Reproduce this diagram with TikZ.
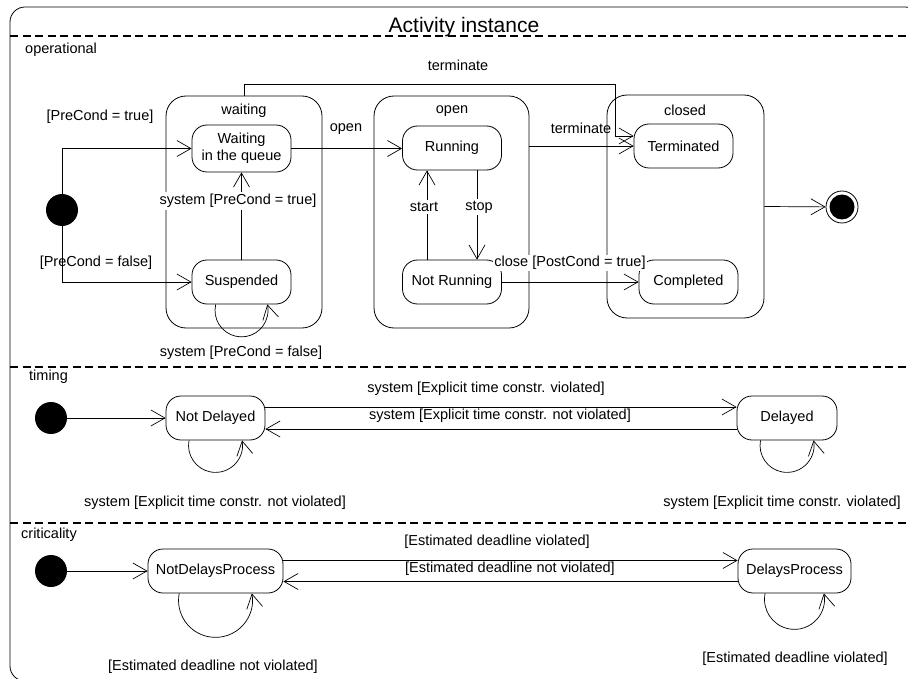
\documentclass[tikz,border=0pt]{standalone}
\usepackage{fontspec}
\setmainfont{Liberation Sans}
\usetikzlibrary{arrows.meta,calc}
\tikzset{
  st/.style={draw, line width=0.8pt, rounded corners=15pt, minimum width=99pt, minimum height=44pt, align=center, inner sep=2pt},
  compbox/.style={draw, line width=0.8pt, rounded corners=20pt, inner sep=0pt},
  tr/.style={-{Straight Barb[length=14pt,width=16pt]}, line width=0.7pt},
  lbl/.style={inner sep=1pt},
  wlbl/.style={inner sep=2pt, fill=white},
  initst/.style={circle, fill=black, minimum size=32pt, inner sep=0pt},
  sep/.style={line width=1.8pt, dash pattern=on 8pt off 4.5pt},
}
\begin{document}
\begin{tikzpicture}[x=1pt,y=-1pt,font=\fontsize{14.5}{17}\selectfont]
\useasboundingbox (0,0) rectangle (908,679);
\clip (0,0) rectangle (908,679);
% frame
\draw[line width=0.8pt, rounded corners=15pt] (10,7) rectangle (920,681);
\draw[sep] (10,36) -- (908,36);
\draw[sep] (10,367) -- (908,367);
\draw[sep] (10,523) -- (908,523);
\node[anchor=base, inner sep=0pt, font=\fontsize{21}{25}\selectfont] (title) at (464,33) {Activity instance};
\node[anchor=west, lbl] (lop) at (24,50) {operational};
\node[anchor=west, lbl] (ltim) at (28,377) {timing};
\node[anchor=west, lbl] (lcri) at (20,535) {criticality};

% ---------- operational ----------
\node[compbox, minimum width=156pt, minimum height=232pt] (wbox) at (244,212) {};
\node[compbox, minimum width=155pt, minimum height=232pt] (obox) at (451.5,212) {};
\node[compbox, minimum width=157pt, minimum height=223pt] (cbox) at (685.5,206.5) {};
\node[lbl] (lwait) at (244,111) {waiting};
\node[lbl] (lopen) at (452,111) {open};
\node[lbl] (lclosed) at (685,110) {closed};

\node[initst] (i1) at (62,210) {};
\node[st, minimum height=47pt] (wait) at (241.5,148.5) {Waiting\\in the queue};
\node[st] (susp) at (241.5,282) {Suspended};
\node[st] (run) at (452,148) {Running};
\node[st] (nrun) at (452,282) {Not Running};
\node[st] (term) at (683.5,146) {Terminated};
\node[st] (compl) at (688.5,282) {Completed};
\node[circle, draw, line width=0.8pt, minimum size=32pt, inner sep=0pt] (fin) at (842,207) {};
\node[circle, fill=black, minimum size=25pt, inner sep=0pt] (finc) at (fin) {};
\coordinate (tc) at (615,84);

\draw[tr] (i1) |- (wait.west);
\draw[tr] (i1) |- (susp.west);
\draw[tr] (wait.east) -- (wait.east -| run.west);
\draw[tr] (susp) -- (wait);
\draw[tr] ([xshift=-25pt]nrun.north) -- ([xshift=-25pt]run.south);
\draw[tr] ([xshift=25pt]run.south) -- ([xshift=25pt]nrun.north);
\draw[tr] (nrun) -- (compl);
\draw[tr] (obox.east |- term.west) -- (term.west);
\draw[tr] (wbox.north) |- (tc) |- ([yshift=10pt]term.west);
\draw[tr] (cbox.east) -- (fin);
\draw[tr] ([xshift=-25.8pt]susp.south) arc[start angle=193, end angle=-13, radius=26.5];

\node[lbl] (lpt) at (100,117) {[PreCond = true]};
\node[lbl] (lpf) at (96,263) {[PreCond = false]};
\node[lbl] (lo) at (346,129) {open};
\node[wlbl] (lspt) at (238,201) {system [PreCond = true]};
\node[lbl] (lspf) at (241,353) {system [PreCond = false]};
\node[wlbl] (lstart) at (424,207) {start};
\node[wlbl] (lstop) at (479,207) {stop};
\node[lbl] (lterm1) at (581,128) {terminate};
\node[lbl] (lterm2) at (458,65) {terminate};
\node[inner sep=1pt, fill=white] (lclose) at (570,263) {close [PostCond = true]};

% ---------- timing ----------
\node[initst] (i2) at (51,418) {};
\node[st] (nd) at (215.5,418) {Not Delayed};
\node[st, minimum width=100pt] (del) at (787,418) {Delayed};
\draw[tr] (i2) -- (nd);
\draw[tr] ([yshift=11pt]nd.east) -- ([yshift=11pt]del.west);
\draw[tr] ([yshift=-11pt]del.west) -- ([yshift=-11pt]nd.east);
\draw[tr] ([xshift=-26.5pt]nd.south) arc[start angle=190.7, end angle=-10.7, radius=27];
\draw[tr] ([xshift=-26.5pt]del.south) arc[start angle=190.7, end angle=-10.7, radius=27];
\node[lbl] (lt1) at (486,389) {system [Explicit time constr. violated]};
\node[lbl] (lt2) at (500,416) {system [Explicit time constr. not violated]};
\node[lbl] (lt3) at (215,503) {system [Explicit time constr. not violated]};
\node[lbl] (lt4) at (782,503) {system [Explicit time constr. violated]};

% ---------- criticality ----------
\node[initst] (i3) at (51,571) {};
\node[st, minimum width=135pt] (ndp) at (215.5,571) {NotDelaysProcess};
\node[st, minimum width=113pt] (dp) at (794.5,571) {DelaysProcess};
\draw[tr] (i3) -- (ndp);
\draw[tr] ([yshift=10.5pt]ndp.east) -- ([yshift=10.5pt]dp.west);
\draw[tr] ([yshift=-10.5pt]dp.west) -- ([yshift=-10.5pt]ndp.east);
\draw[tr] ([xshift=-36.3pt]ndp.south) arc[start angle=190.9, end angle=-10.9, radius=37];
\draw[tr] ([xshift=-29.4pt]dp.south) arc[start angle=191.5, end angle=-11.5, radius=30];
\node[lbl] (lc1) at (497,542) {[Estimated deadline violated]};
\node[lbl] (lc2) at (510,569) {[Estimated deadline not violated]};
\node[lbl] (lc3) at (213,667) {[Estimated deadline not violated]};
\node[lbl] (lc4) at (795,659) {[Estimated deadline violated]};
\end{tikzpicture}
\end{document}
